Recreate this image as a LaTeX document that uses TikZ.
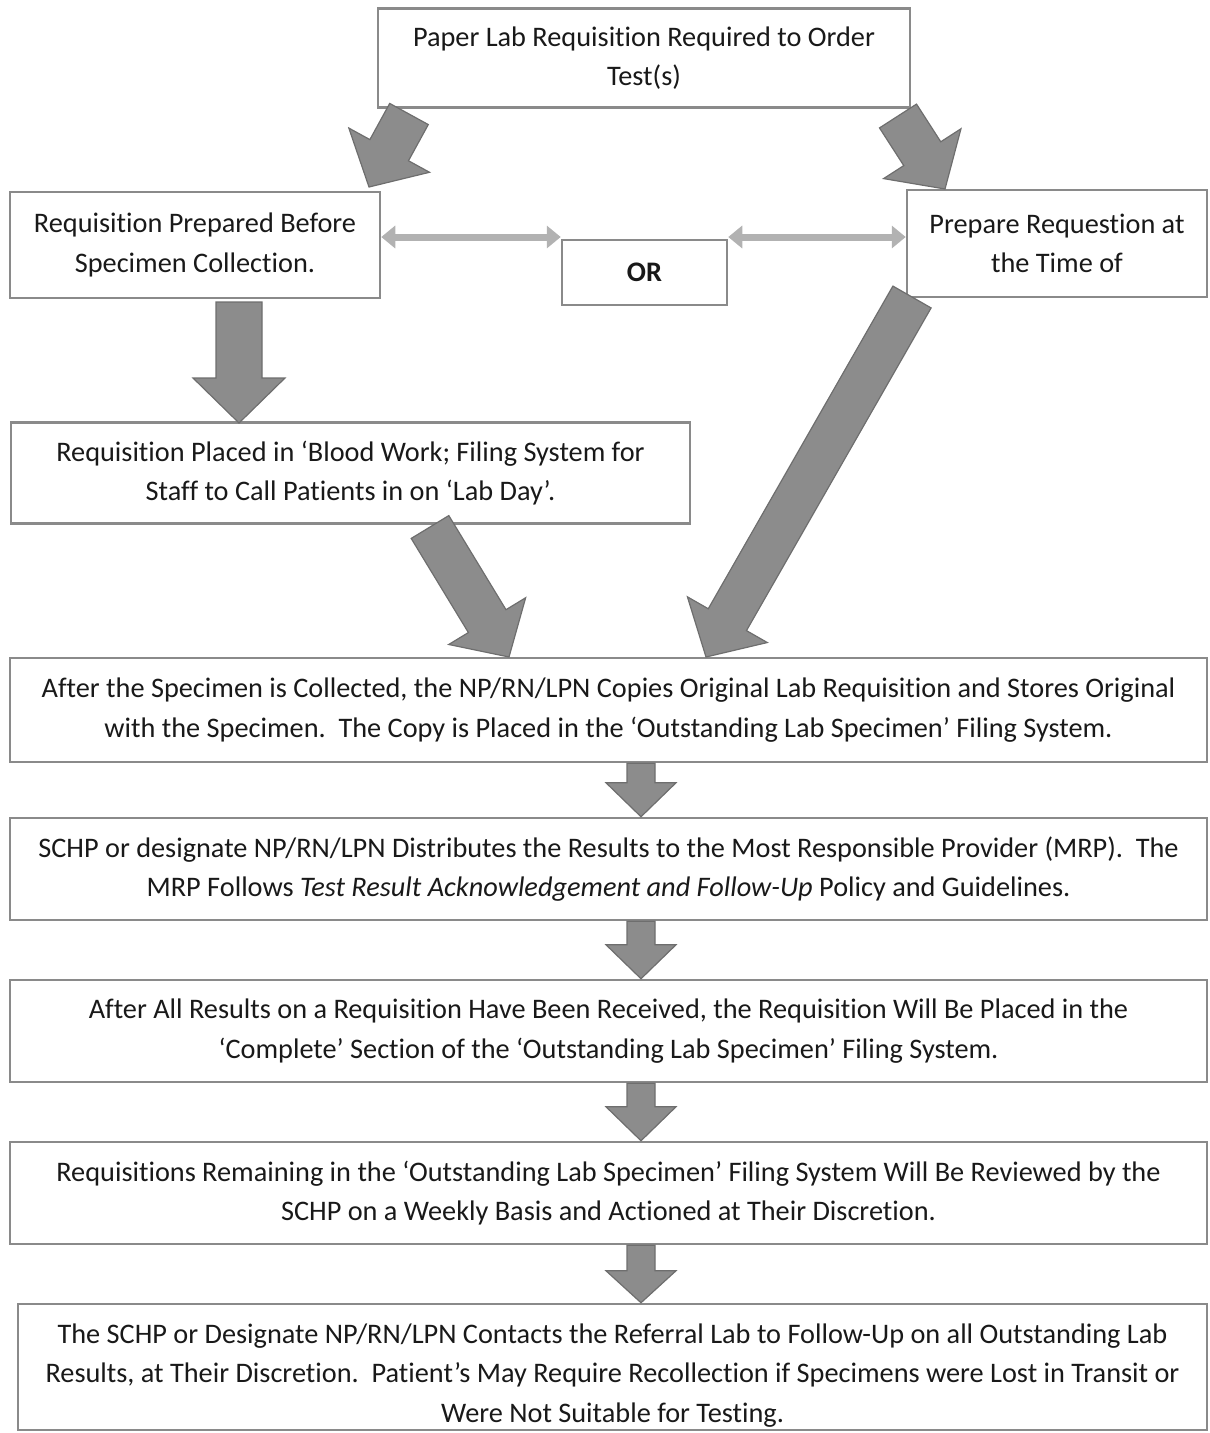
\documentclass[tikz,border=0pt]{standalone}
\usepackage{fontspec}
\setmainfont{Carlito}[Ligatures=NoCommon]
\usetikzlibrary{arrows.meta}
\usetikzlibrary{calc}
\usetikzlibrary{positioning}

\definecolor{boxgray}{RGB}{138,138,138}
\definecolor{arrfill}{RGB}{140,140,140}
\definecolor{arrline}{RGB}{110,110,110}
\definecolor{dblgray}{RGB}{178,178,178}
\definecolor{txtgray}{RGB}{25,25,25}

% block arrow: tail, tip, shaft half width, head half width, head length
\newcommand{\blockarrow}[5]{%
  \coordinate (neck) at ($(#2)!#5!(#1)$);
  \draw[blockarr] ($(#1)!#3!90:(#2)$) -- ($(neck)!#3!-90:(#1)$)
    -- ($(neck)!#4!-90:(#1)$) -- (#2) -- ($(neck)!#4!90:(#1)$)
    -- ($(neck)!#3!90:(#1)$) -- ($(#1)!#3!-90:(#2)$) -- cycle;
}

\begin{document}
\begin{tikzpicture}[x=1pt,y=1pt,
  stepbox/.style={draw=boxgray,line width=2.5pt,fill=white,align=center,
    inner sep=0pt,text=txtgray,font=\fontsize{28.3}{39.5}\selectfont},
  blockarr/.style={fill=arrfill,draw=arrline,line width=1.2pt,line join=miter},
  dblarr/.style={draw=dblgray,line width=7pt,
    {Triangle[width=22pt,length=14pt]}-{Triangle[width=22pt,length=14pt]}}]
\useasboundingbox (0,0) rectangle (1210,-1433);

\node[stepbox,minimum width=532,minimum height=99] (paper) at (644,-58)
  {Paper Lab Requisition Required to Order\\Test(s)};
\node[stepbox,minimum width=370,minimum height=106] (before) at (195,-245)
  {Requisition Prepared Before\\Specimen Collection.};
\node[stepbox,minimum width=165,minimum height=65] (or) at (644.5,-272.5)
  {\bfseries OR};
\node[stepbox,minimum width=300,minimum height=107] (attime) at (1057,-243.5)
  {Prepare Requestion at\\the Time of};
\node[stepbox,minimum width=679,minimum height=101] (placed) at (350.5,-473)
  {Requisition Placed in `Blood Work; Filing System for\\Staff to Call Patients in on `Lab Day'.};
\node[stepbox,minimum width=1197,minimum height=104] (collected) at (608.5,-710)
  {After the Specimen is Collected, the NP/RN/LPN Copies Original Lab Requisition and Stores Original\\with the Specimen.\ \ The Copy is Placed in the `Outstanding Lab Specimen' Filing System.};
\node[stepbox,minimum width=1197,minimum height=102] (distrib) at (608.5,-869)
  {SCHP or designate NP/RN/LPN Distributes the Results to the Most Responsible Provider (MRP).\ \ The\\MRP Follows \textit{Test Result Acknowledgement and Follow-Up} Policy and Guidelines.};
\node[stepbox,minimum width=1197,minimum height=102] (complete) at (608.5,-1031)
  {After All Results on a Requisition Have Been Received, the Requisition Will Be Placed in the\\`Complete' Section of the `Outstanding Lab Specimen' Filing System.};
\node[stepbox,minimum width=1197,minimum height=102] (review) at (608.5,-1193)
  {Requisitions Remaining in the `Outstanding Lab Specimen' Filing System Will Be Reviewed by the\\SCHP on a Weekly Basis and Actioned at Their Discretion.};
\node[stepbox,minimum width=1189,minimum height=126] (followup) at (612.5,-1367)
  {\rule{0pt}{36pt}The SCHP or Designate NP/RN/LPN Contacts the Referral Lab to Follow-Up on all Outstanding Lab\\Results, at Their Discretion.\ \ Patient's May Require Recollection if Specimens were Lost in Transit or\\Were Not Suitable for Testing.};

%\draw (before) -- (or);
\draw[dblarr] (before.east |- 0,-237) -- (or.west |- 0,-237);
\draw[dblarr] (or.east |- 0,-237) -- (attime.west |- 0,-237);

\coordinate (t1) at (409,-114);
\coordinate (h1) at (369,-187);
\coordinate (t2) at (898,-116);
\coordinate (h2) at (945,-189);
\coordinate (t3) at (239,-302);
\coordinate (h3) at (239,-423);
\coordinate (t4) at (430,-527);
\coordinate (h4) at (509,-657);
\coordinate (t5) at (912,-297);
\coordinate (h5) at (706,-657);
\blockarrow{t1}{h1}{22pt}{46pt}{42pt}
\blockarrow{t2}{h2}{22pt}{46pt}{42pt}
\blockarrow{t3}{h3}{23pt}{46pt}{45pt}
\blockarrow{t4}{h4}{22pt}{45pt}{42pt}
\blockarrow{t5}{h5}{22pt}{46pt}{43pt}

\blockarrow{collected.south -| 641,0}{distrib.north -| 641,0}{14pt}{35pt}{34pt}
\blockarrow{distrib.south -| 641,0}{complete.north -| 641,0}{14pt}{35pt}{34pt}
\blockarrow{complete.south -| 641,0}{review.north -| 641,0}{14pt}{35pt}{34pt}
\blockarrow{review.south -| 641,0}{followup.north -| 641,0}{14pt}{35pt}{32pt}
\end{tikzpicture}
\end{document}
